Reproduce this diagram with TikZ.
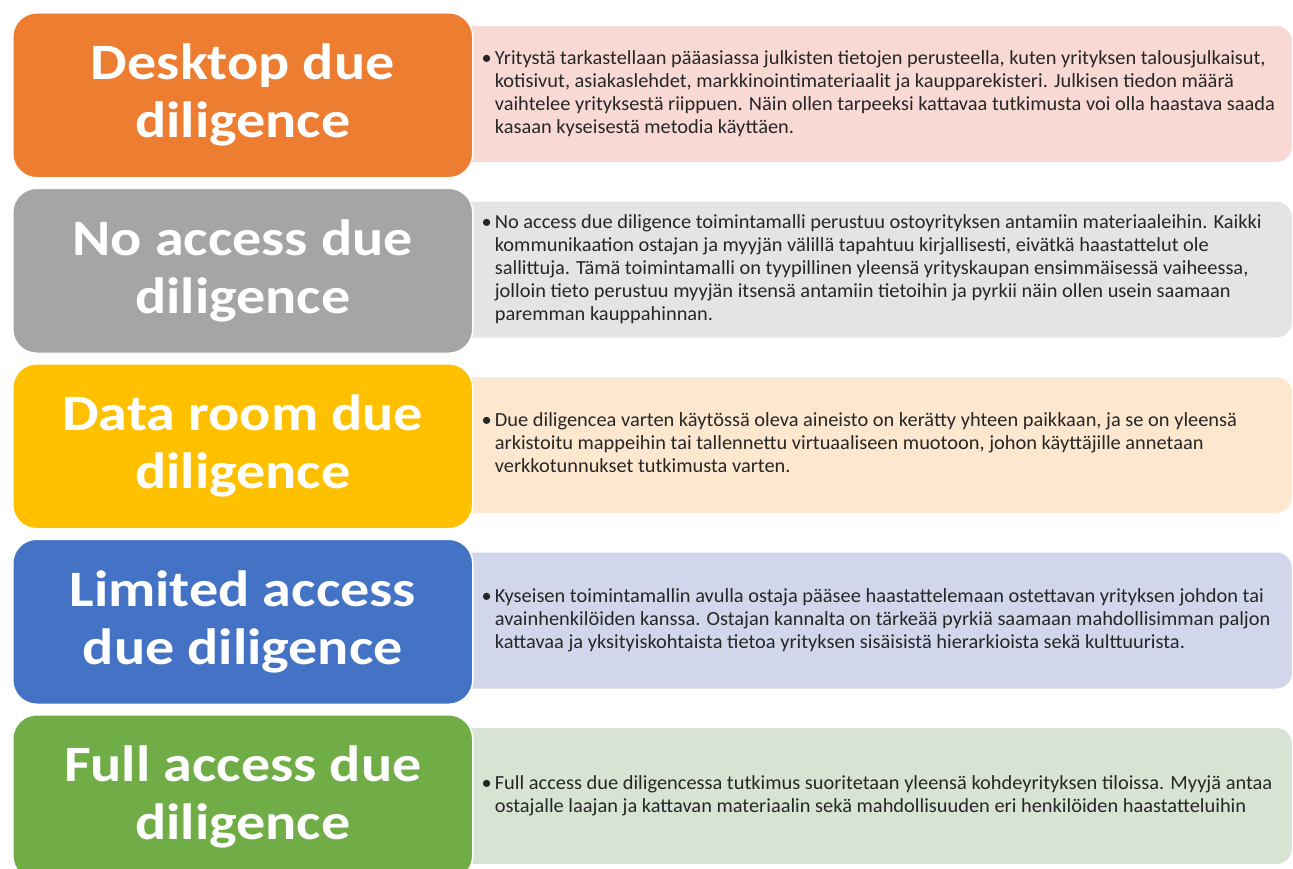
\documentclass[tikz,border=0pt]{standalone}
\usepackage{fontspec}
\setmainfont{Carlito}
\newfontfamily\ddtitlefont{Carlito}[FakeStretch=1.14]
\newfontfamily\ddbodyfont{Carlito}[FakeStretch=1.02]
\usepackage{tikz}

\definecolor{ddorange}{HTML}{ED7D31}
\definecolor{ddgray}{HTML}{A5A5A5}
\definecolor{ddyellow}{HTML}{FFC000}
\definecolor{ddblue}{HTML}{4472C4}
\definecolor{ddgreen}{HTML}{70AD47}
\definecolor{ddorangelt}{HTML}{F8D9D3}
\definecolor{ddgraylt}{HTML}{E4E4E4}
\definecolor{ddyellowlt}{HTML}{FDE7CF}
\definecolor{ddbluelt}{HTML}{D1D6EB}
\definecolor{ddgreenlt}{HTML}{D8E4D3}

\begin{document}
\begin{tikzpicture}[x=1pt,y=-1pt]
	\tikzset{%
		stagebox/.style={rounded corners=24pt,draw=white,line width=1.5pt,minimum width=460pt,minimum height=165pt,anchor=north west,inner sep=0pt,align=center,text=white,font=\ddtitlefont\fontsize{51}{58}\selectfont\bfseries},
		infobox/.style={rounded corners=16pt,draw=white,line width=1pt,minimum width=842pt,minimum height=137pt,anchor=north west},
		infotext/.style={anchor=west,inner sep=0pt,text=black!85,font=\ddbodyfont\fontsize{20}{23}\selectfont},
	}

	\useasboundingbox (0,0) rectangle (1293,868);
	\clip (0,0) rectangle (1293,868);

	\def\rowh{175.5}

	\newcommand*{\ddstage}[6]{%
	\node [infobox,fill=#4] (#1info) at (450,{#2*\rowh+25}) {};
	\node [stagebox,fill=#3] (#1) at (12,{#2*\rowh+12}) {#5};
	\node [infotext] (#1text) at ([xshift=8pt]#1.east |- #1info.center)
		{\begin{tabular}{@{}l@{\hspace{3pt}}l@{}}\textbullet & #6\end{tabular}};
	}

	\ddstage{desktop}{0}{ddorange}{ddorangelt}{Desktop due\\diligence}
		{Yritystä tarkastellaan pääasiassa julkisten tietojen perusteella, kuten yrityksen talousjulkaisut,\\
		& kotisivut, asiakaslehdet, markkinointimateriaalit ja kaupparekisteri. Julkisen tiedon määrä\\
		& vaihtelee yrityksestä riippuen. Näin ollen tarpeeksi kattavaa tutkimusta voi olla haastava saada\\
		& kasaan kyseisestä metodia käyttäen.}

	\ddstage{noaccess}{1}{ddgray}{ddgraylt}{No access due\\diligence}
		{No access due diligence toimintamalli perustuu ostoyrityksen antamiin materiaaleihin. Kaikki\\
		& kommunikaation ostajan ja myyjän välillä tapahtuu kirjallisesti, eivätkä haastattelut ole\\
		& sallittuja. Tämä toimintamalli on tyypillinen yleensä yrityskaupan ensimmäisessä vaiheessa,\\
		& jolloin tieto perustuu myyjän itsensä antamiin tietoihin ja pyrkii näin ollen usein saamaan\\
		& paremman kauppahinnan.}

	\ddstage{dataroom}{2}{ddyellow}{ddyellowlt}{Data room due\\diligence}
		{Due diligencea varten käytössä oleva aineisto on kerätty yhteen paikkaan, ja se on yleensä\\
		& arkistoitu mappeihin tai tallennettu virtuaaliseen muotoon, johon käyttäjille annetaan\\
		& verkkotunnukset tutkimusta varten.}

	\ddstage{limited}{3}{ddblue}{ddbluelt}{Limited access\\due diligence}
		{Kyseisen toimintamallin avulla ostaja pääsee haastattelemaan ostettavan yrityksen johdon tai\\
		& avainhenkilöiden kanssa. Ostajan kannalta on tärkeää pyrkiä saamaan mahdollisimman paljon\\
		& kattavaa ja yksityiskohtaista tietoa yrityksen sisäisistä hierarkioista sekä kulttuurista.}

	\ddstage{fullaccess}{4}{ddgreen}{ddgreenlt}{Full access due\\diligence}
		{Full access due diligencessa tutkimus suoritetaan yleensä kohdeyrityksen tiloissa. Myyjä antaa\\
		& ostajalle laajan ja kattavan materiaalin sekä mahdollisuuden eri henkilöiden haastatteluihin}
\end{tikzpicture}
\end{document}
